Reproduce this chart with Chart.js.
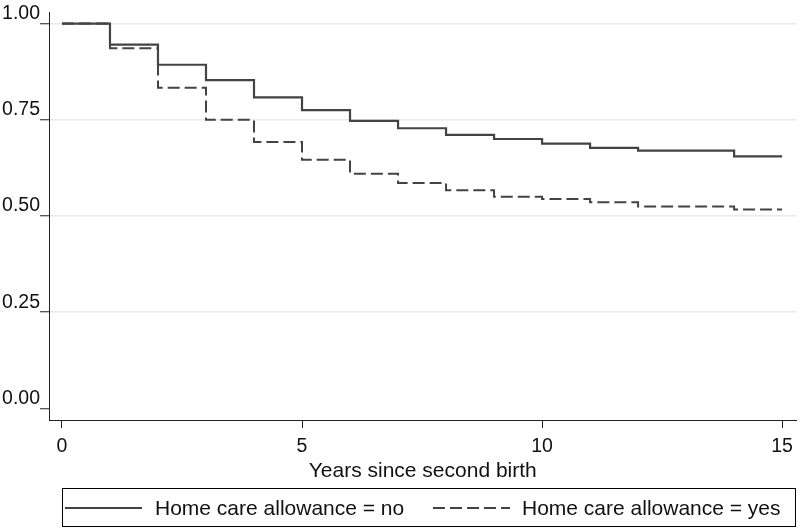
<!DOCTYPE html>
<html>
<head>
<meta charset="utf-8">
<script src="https://cdn.jsdelivr.net/npm/chart.js@4/dist/chart.umd.min.js"></script>
<style>
  html, body { margin: 0; padding: 0; background: #fff; }
  #wrap { width: 800px; height: 528px; }
</style>
</head>
<body>
<div id="wrap"><canvas id="c" width="800" height="528"></canvas></div>
<script>
// ---- data ----
const seriesNames = ["Home care allowance = no", "Home care allowance = yes"];
const timesNo  = [0, 1, 2, 3, 4, 5, 6, 7, 8, 9, 10, 11, 12, 14, 15];
const survNo   = [1.000, 0.945, 0.893, 0.853, 0.808, 0.775, 0.747, 0.728, 0.711, 0.700, 0.688, 0.677, 0.670, 0.655, 0.655];
const timesYes = [0, 1, 2, 3, 4, 5, 6, 7, 8, 9, 10, 11, 12, 14, 15];
const survYes  = [1.000, 0.936, 0.833, 0.750, 0.692, 0.646, 0.610, 0.586, 0.567, 0.550, 0.544, 0.536, 0.525, 0.517, 0.517];
const xTickValues = [0, 5, 10, 15];
const yTickValues = [0, 0.25, 0.5, 0.75, 1];
const xTitle = "Years since second birth";

const FONT = "'Liberation Sans', Arial, sans-serif";
const lineColor = "#434343";

const toPts = (xs, ys) => xs.map((x, i) => ({ x: x, y: ys[i] }));

const legendPlugin = {
  id: 'boxLegend',
  afterDraw(chart) {
    const ctx = chart.ctx;
    ctx.save();
    ctx.strokeStyle = '#000';
    ctx.lineWidth = 1;
    ctx.strokeRect(62.5, 488.5, 733, 38);
    const items = [
      { x0: 65, x1: 142, tx: 155, ds: chart.data.datasets[0] },
      { x0: 433, x1: 510, tx: 522, ds: chart.data.datasets[1] }
    ];
    const yMid = 508;
    items.forEach(it => {
      ctx.beginPath();
      ctx.strokeStyle = it.ds.borderColor;
      ctx.lineWidth = 2;
      ctx.setLineDash(it.ds.borderDash || []);
      ctx.moveTo(it.x0, yMid);
      ctx.lineTo(it.x1, yMid);
      ctx.stroke();
      ctx.setLineDash([]);
      ctx.fillStyle = '#111';
      ctx.font = "21px " + FONT;
      ctx.textBaseline = 'middle';
      ctx.textAlign = 'left';
      ctx.fillText(it.ds.label, it.tx, yMid + 1);
    });
    ctx.restore();
  }
};

new Chart(document.getElementById('c'), {
  type: 'line',
  data: {
    datasets: [
      {
        label: seriesNames[0],
        data: toPts(timesNo, survNo),
        stepped: 'before',
        borderColor: lineColor,
        borderWidth: 2.2,
        pointRadius: 0,
        fill: false
      },
      {
        label: seriesNames[1],
        data: toPts(timesYes, survYes),
        stepped: 'before',
        borderColor: lineColor,
        borderWidth: 2,
        borderDash: [12, 5],
        pointRadius: 0,
        fill: false
      }
    ]
  },
  options: {
    responsive: false,
    animation: false,
    layout: { padding: { left: 0, right: 2, top: 12, bottom: 46 } },
    plugins: {
      legend: { display: false },
      tooltip: { enabled: false }
    },
    scales: {
      x: {
        type: 'linear',
        min: -0.27,
        max: 15.3,
        afterBuildTicks: s => { s.ticks = xTickValues.map(v => ({ value: v })); },
        afterFit: s => { s.height = 62; },
        border: { display: true, color: '#222', width: 1 },
        grid: { drawOnChartArea: false, drawTicks: true, tickLength: 8, tickColor: '#222', tickWidth: 1 },
        ticks: { color: '#111', font: { family: FONT, size: 19.5 }, padding: 7, maxRotation: 0 },
        title: { display: true, text: xTitle, color: '#111', font: { family: FONT, size: 21 }, padding: { top: 0, bottom: -2 } }
      },
      y: {
        type: 'linear',
        min: -0.03,
        max: 1.03,
        afterBuildTicks: s => { s.ticks = yTickValues.map(v => ({ value: v })); },
        afterFit: s => { s.width = 49; },
        border: { display: true, color: '#222', width: 1 },
        grid: {
          drawOnChartArea: true,
          color: ctx => (ctx.tick && ctx.tick.value === 0) ? 'rgba(0,0,0,0)' : '#eaeaea',
          lineWidth: 1.5,
          drawTicks: true,
          tickLength: 9,
          tickColor: '#222',
          tickWidth: 1
        },
        ticks: {
          color: '#111',
          font: { family: FONT, size: 19.5 },
          padding: 0,
          labelOffset: -10,
          callback: v => Number(v).toFixed(2)
        }
      }
    }
  },
  plugins: [legendPlugin]
});
</script>
</body>
</html>
